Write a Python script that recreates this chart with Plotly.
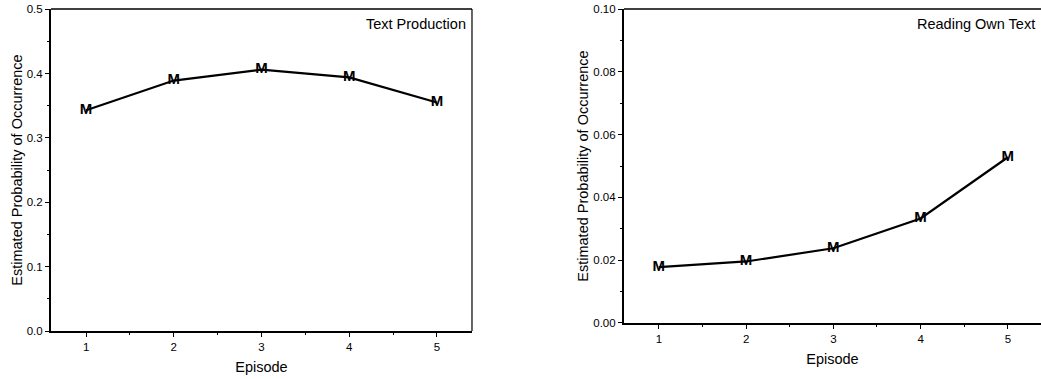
import plotly.graph_objects as go

episodes = [1, 2, 3, 4, 5]
text_production = [0.343, 0.389, 0.406, 0.394, 0.355]
reading_own_text = [0.0178, 0.0196, 0.0238, 0.0333, 0.0528]

panel_titles = ["Text Production", "Reading Own Text"]
y_title = "Estimated Probability of Occurrence"
x_title = "Episode"

left_ticks = [0.0, 0.1, 0.2, 0.3, 0.4, 0.5]
left_ticklabels = ["0.0", "0.1", "0.2", "0.3", "0.4", "0.5"]
right_ticks = [0.0, 0.02, 0.04, 0.06, 0.08, 0.10]
right_ticklabels = ["0.00", "0.02", "0.04", "0.06", "0.08", "0.10"]

FONT = "Liberation Sans, Arial, sans-serif"

fig = go.Figure()

for vals, ax in [(text_production, ""), (reading_own_text, "2")]:
    fig.add_trace(go.Scatter(
        x=episodes, y=vals, mode="lines+text", text=["M"] * len(vals),
        textposition="middle center",
        textfont=dict(family=FONT, size=15, color="black", weight="bold"),
        line=dict(color="black", width=2.2),
        xaxis="x" + ax, yaxis="y" + ax, showlegend=False, hoverinfo="skip",
    ))

common_x = dict(
    automargin=False,
    showgrid=False, zeroline=False, showline=True, linecolor="black", linewidth=2,
    ticks="outside", ticklen=4, tickwidth=1, tickcolor="black",
    tickvals=episodes, ticktext=[str(e) for e in episodes],
    tickfont=dict(family=FONT, size=11.5, color="black"),
    minor=dict(dtick=0.5, tick0=0.5, ticks="outside", ticklen=2, tickcolor="black", showgrid=False),
    title=dict(text=x_title, font=dict(family=FONT, size=14.5, color="black"), standoff=10),
)
common_y = dict(
    automargin=False,
    showgrid=False, zeroline=False, showline=True, linecolor="black", linewidth=2,
    ticks="outside", ticklen=4, tickwidth=1, tickcolor="black",
    tickfont=dict(family=FONT, size=11.5, color="black"),
    title=dict(text=y_title, font=dict(family=FONT, size=14.5, color="black"), standoff=1),
)

fig.update_layout(
    width=1041, height=379,
    margin=dict(l=0, r=0, t=0, b=0, autoexpand=False),
    paper_bgcolor="white", plot_bgcolor="white",
    xaxis=dict(common_x, domain=[0.049, 0.4534], range=[0.6, 5.4], anchor="y"),
    yaxis=dict(common_y, domain=[0.1266, 0.976], range=[0, 0.5],
               tickvals=left_ticks, ticktext=left_ticklabels, anchor="x",
               minor=dict(dtick=0.05, ticks="outside", ticklen=2, tickcolor="black", showgrid=False)),
    xaxis2=dict(common_x, domain=[0.5994, 1.0], range=[0.6, 5.38], anchor="y2"),
    yaxis2=dict(common_y, domain=[0.1478, 0.976], range=[0, 0.10],
                tickvals=right_ticks, ticktext=right_ticklabels, anchor="x2",
                minor=dict(dtick=0.01, ticks="outside", ticklen=2, tickcolor="black", showgrid=False)),
)

# Frame lines: top and right on the first panel, top on the second
fig.add_shape(type="line", xref="x domain", yref="y domain", x0=0, x1=1, y0=1, y1=1,
              line=dict(color="black", width=1.5))
fig.add_shape(type="line", xref="x domain", yref="y domain", x0=1, x1=1, y0=0, y1=1,
              line=dict(color="black", width=1.2))
fig.add_shape(type="line", xref="x2 domain", yref="y2 domain", x0=0, x1=1, y0=1, y1=1,
              line=dict(color="black", width=1.5))

for title, xr, yr in [(panel_titles[0], "x domain", "y domain"), (panel_titles[1], "x2 domain", "y2 domain")]:
    fig.add_annotation(text=title, xref=xr, yref=yr, x=0.99, y=0.985,
                       xanchor="right", yanchor="top", showarrow=False,
                       font=dict(family=FONT, size=14.5, color="black"))

fig.write_html("out.html")
